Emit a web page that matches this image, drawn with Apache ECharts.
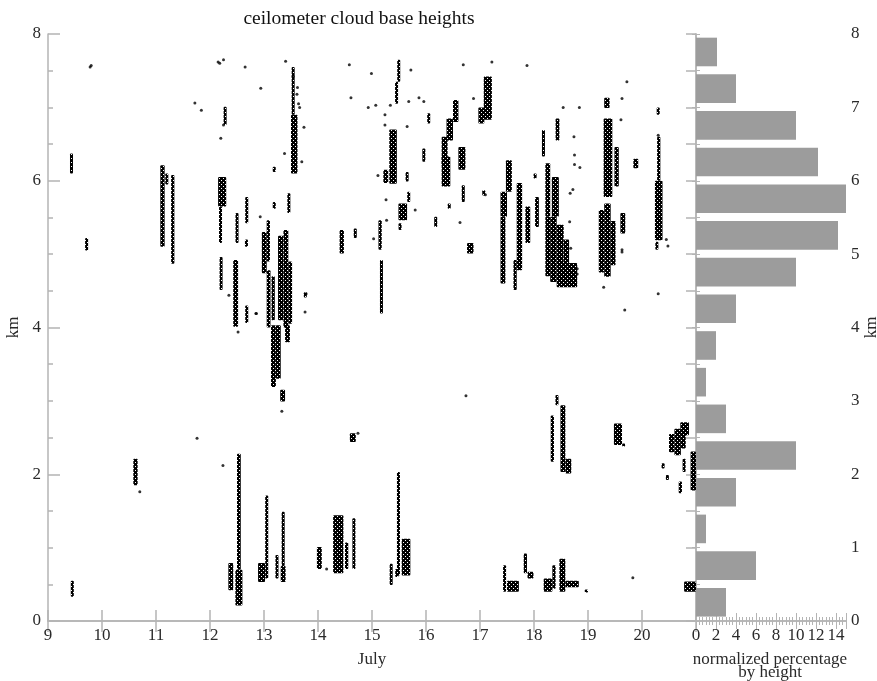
<!DOCTYPE html>
<html>
<head>
<meta charset="utf-8">
<script src="https://cdn.jsdelivr.net/npm/echarts@6/dist/echarts.min.js"></script>
<style>
html,body{margin:0;padding:0;background:#fff;}
#chart{width:877px;height:681px;}
</style>
</head>
<body>
<div id="chart"></div>
<script>
// ---- data ----
const titleText = 'ceilometer cloud base heights';
const xAxisName = 'July';
const yAxisName = 'km';
const histNameLine1 = 'normalized percentage';
const histNameLine2 = 'by height';

const dayMin = 9;
const dayMax = 21;
const kmMin = 0;
const kmMax = 8;

// Dense groups of cloud-base returns: [day start, day end, km low, km high]
const cloudStreaks = [
  [9.42, 9.45, 6.10, 6.37],
  [9.70, 9.73, 5.05, 5.22],
  [9.43, 9.47, 0.33, 0.55],
  [10.58, 10.66, 1.85, 2.21],
  [11.08, 11.16, 5.10, 6.21],
  [11.18, 11.22, 5.95, 6.10],
  [11.28, 11.34, 4.87, 6.08],
  [12.27, 12.29, 6.76, 7.01],
  [12.15, 12.30, 5.65, 6.05],
  [12.17, 12.22, 5.15, 5.65],
  [12.19, 12.22, 4.51, 4.96],
  [12.48, 12.52, 5.15, 5.56],
  [12.66, 12.70, 5.42, 5.78],
  [12.66, 12.69, 5.10, 5.20],
  [12.43, 12.52, 4.01, 4.92],
  [12.67, 12.69, 4.06, 4.30],
  [12.96, 13.05, 4.74, 5.30],
  [13.05, 13.11, 4.90, 5.46],
  [13.05, 13.12, 4.00, 4.78],
  [13.14, 13.20, 4.10, 4.70],
  [13.13, 13.22, 3.19, 4.03],
  [13.22, 13.31, 3.30, 4.03],
  [13.30, 13.39, 2.99, 3.15],
  [13.26, 13.36, 4.10, 5.25],
  [13.36, 13.45, 4.00, 5.33],
  [13.45, 13.52, 4.05, 4.90],
  [13.39, 13.48, 3.80, 4.03],
  [13.52, 13.56, 6.90, 7.55],
  [13.50, 13.62, 6.10, 6.90],
  [13.45, 13.47, 5.56, 5.83],
  [13.18, 13.20, 6.12, 6.19],
  [13.18, 13.20, 5.62, 5.71],
  [13.75, 13.78, 4.41, 4.48],
  [12.34, 12.43, 0.42, 0.79],
  [12.50, 12.57, 0.70, 2.28],
  [12.47, 12.60, 0.21, 0.70],
  [12.89, 13.02, 0.53, 0.79],
  [13.03, 13.07, 0.58, 1.71],
  [13.22, 13.26, 0.58, 0.90],
  [13.34, 13.37, 0.75, 1.49],
  [13.31, 13.40, 0.53, 0.75],
  [14.40, 14.48, 5.01, 5.33],
  [14.68, 14.70, 5.22, 5.35],
  [14.59, 14.70, 2.44, 2.56],
  [13.98, 14.07, 0.71, 1.01],
  [14.28, 14.47, 0.65, 1.44],
  [14.50, 14.56, 0.71, 1.07],
  [14.64, 14.69, 0.71, 1.40],
  [15.12, 15.18, 5.06, 5.46],
  [15.15, 15.20, 4.19, 4.92],
  [15.47, 15.52, 7.35, 7.65],
  [15.43, 15.48, 7.05, 7.35],
  [15.32, 15.46, 5.96, 6.70],
  [15.21, 15.30, 5.97, 6.15],
  [15.49, 15.65, 5.46, 5.69],
  [15.51, 15.53, 5.33, 5.42],
  [15.64, 15.66, 5.99, 6.12],
  [15.67, 15.69, 5.71, 5.85],
  [15.95, 15.97, 6.26, 6.44],
  [16.04, 16.06, 6.78, 6.92],
  [16.16, 16.20, 5.37, 5.51],
  [15.34, 15.37, 0.49, 0.78],
  [15.43, 15.49, 0.60, 0.71],
  [15.47, 15.51, 0.62, 2.03],
  [15.55, 15.71, 0.62, 1.12],
  [16.50, 16.60, 6.80, 7.10],
  [16.38, 16.50, 6.55, 6.85],
  [16.29, 16.40, 6.20, 6.60],
  [16.29, 16.45, 5.92, 6.33],
  [16.60, 16.73, 6.15, 6.46],
  [16.68, 16.70, 5.71, 5.94],
  [16.42, 16.44, 5.62, 5.69],
  [16.76, 16.88, 5.01, 5.15],
  [17.06, 17.08, 5.80, 5.87],
  [16.97, 17.08, 6.78, 7.00],
  [17.07, 17.22, 6.83, 7.42],
  [17.38, 17.50, 5.51, 5.85],
  [17.48, 17.59, 5.85, 6.28],
  [17.38, 17.47, 4.60, 5.51],
  [17.62, 17.68, 4.51, 4.92],
  [17.68, 17.78, 4.78, 5.97],
  [17.84, 17.93, 5.15, 5.65],
  [18.02, 18.09, 5.37, 5.78],
  [18.01, 18.03, 6.03, 6.10],
  [18.15, 18.20, 6.33, 6.69],
  [18.40, 18.47, 6.55, 6.85],
  [18.21, 18.30, 5.51, 6.24],
  [18.33, 18.46, 5.51, 6.05],
  [18.21, 18.30, 4.70, 5.51],
  [18.30, 18.42, 4.62, 5.51],
  [18.42, 18.55, 4.55, 5.40],
  [18.55, 18.65, 4.60, 5.20],
  [18.52, 18.80, 4.55, 4.88],
  [19.30, 19.40, 6.99, 7.13],
  [19.29, 19.45, 5.78, 6.85],
  [19.49, 19.57, 5.92, 6.46],
  [19.20, 19.30, 4.75, 5.60],
  [19.30, 19.42, 4.69, 5.69],
  [19.42, 19.51, 4.85, 5.45],
  [19.60, 19.69, 5.28, 5.56],
  [19.84, 19.93, 6.17, 6.30],
  [20.28, 20.32, 6.90, 7.00],
  [20.28, 20.34, 6.00, 6.60],
  [20.24, 20.38, 5.19, 6.00],
  [20.25, 20.30, 5.06, 5.17],
  [18.31, 18.37, 2.17, 2.80],
  [18.40, 18.45, 2.94, 3.08],
  [18.49, 18.58, 2.03, 2.94],
  [18.58, 18.69, 2.01, 2.21],
  [19.48, 19.63, 2.40, 2.69],
  [19.65, 19.67, 2.38, 2.42],
  [20.50, 20.60, 2.30, 2.55],
  [20.60, 20.72, 2.26, 2.62],
  [20.72, 20.81, 2.35, 2.55],
  [20.71, 20.87, 2.53, 2.71],
  [20.38, 20.40, 2.08, 2.15],
  [20.46, 20.48, 1.92, 1.99],
  [20.68, 20.74, 1.74, 1.90],
  [20.77, 20.79, 2.03, 2.21],
  [20.90, 21.00, 1.78, 2.31],
  [17.44, 17.47, 0.40, 0.76],
  [17.50, 17.72, 0.40, 0.55],
  [17.81, 17.87, 0.65, 0.92],
  [17.88, 17.99, 0.58, 0.67],
  [18.18, 18.34, 0.40, 0.58],
  [18.34, 18.40, 0.44, 0.76],
  [18.47, 18.58, 0.40, 0.85],
  [18.58, 18.83, 0.46, 0.55],
  [18.94, 19.00, 0.40, 0.42],
  [20.78, 21.00, 0.40, 0.54]
];

// Isolated returns: [day, km]
const cloudDots = [
  [9.80, 7.57], [9.78, 7.55], [11.72, 7.06], [11.84, 6.96], [12.15, 7.62], [12.18, 7.60],
  [12.25, 7.65], [12.65, 7.55], [12.94, 7.26], [12.25, 6.76], [12.20, 6.58], [12.35, 4.44],
  [12.85, 4.19], [12.93, 5.51], [13.40, 7.63], [13.54, 7.42], [13.62, 7.27], [13.61, 7.18],
  [13.64, 7.05], [13.66, 7.00], [13.74, 6.73], [13.38, 6.37], [13.70, 6.26], [13.76, 4.21],
  [13.78, 4.46], [12.86, 4.19], [12.52, 3.94], [13.33, 2.86], [14.58, 7.58], [14.61, 7.13],
  [14.99, 7.46], [14.93, 7.00], [15.07, 7.03], [15.34, 7.03], [15.03, 5.21], [15.24, 6.90],
  [15.24, 6.76], [15.11, 6.07], [15.26, 5.74], [15.27, 5.46], [15.65, 6.74], [15.68, 7.08],
  [15.72, 7.51], [15.80, 5.60], [15.87, 7.13], [15.96, 7.08], [16.69, 7.58], [16.88, 7.12],
  [16.63, 5.43], [17.22, 7.62], [17.87, 7.57], [17.10, 5.81], [18.54, 7.00], [18.84, 7.00],
  [18.74, 6.60], [18.75, 6.35], [18.75, 6.22], [18.85, 6.18], [18.67, 5.83], [18.72, 5.88],
  [18.66, 5.44], [18.68, 5.08], [18.80, 4.80], [18.80, 4.73], [19.72, 7.35], [19.63, 7.12],
  [19.61, 6.83], [19.63, 5.06], [19.63, 5.03], [19.68, 4.24], [20.30, 6.62], [20.48, 5.11],
  [20.45, 5.20], [20.30, 4.46], [19.29, 4.55], [10.70, 1.76], [11.76, 2.49], [12.24, 2.12],
  [16.74, 3.07], [19.83, 0.59], [14.16, 0.71], [14.74, 2.56]
];

// Histogram: lower edge of each 0.5 km bin, and normalized percentage
const binLowKm = [0, 0.5, 1, 1.5, 2, 2.5, 3, 3.5, 4, 4.5, 5, 5.5, 6, 6.5, 7, 7.5];
const binPercent = [3, 6, 1, 4, 10, 3, 1, 2, 4, 10, 14.2, 16, 12.2, 10, 4, 2.1];
const histMax = 15;

// ---- chart ----
const FONT = '"Liberation Serif", "DejaVu Serif", serif';
const AX = '#b4b4b4';
const TXT = '#2a2a2a';
const FS = 17;

// speckled fill for dense groups of returns (mostly black with small gaps)
const tile = document.createElement('canvas');
tile.width = 4; tile.height = 4;
(function () {
  const c = tile.getContext('2d');
  c.fillStyle = '#000';
  c.fillRect(0, 0, 4, 4);
  c.clearRect(1, 0, 1, 1);
  c.clearRect(3, 2, 1, 1);
})();
const speckle = {image: tile, repeat: 'repeat'};

const histData = binLowKm.map((b, i) => [b, binPercent[i]]);

const chart = echarts.init(document.getElementById('chart'), null, {renderer: 'canvas'});
const labelStyle = {fontFamily: FONT, fontSize: FS, color: TXT};

const option = {
  animation: false,
  backgroundColor: '#fff',
  graphic: [
    {type: 'text', x: 359, y: 19, style: {text: titleText, textAlign: 'center', textVerticalAlign: 'middle',
      font: '19.5px ' + FONT, fill: '#111'}},
    {type: 'text', x: 770, y: 660, style: {text: histNameLine1, textAlign: 'center', textVerticalAlign: 'middle',
      font: FS + 'px ' + FONT, fill: TXT}},
    {type: 'text', x: 770, y: 673, style: {text: histNameLine2, textAlign: 'center', textVerticalAlign: 'middle',
      font: FS + 'px ' + FONT, fill: TXT}}
  ],
  grid: [
    {left: 48, top: 34, width: 648, height: 587, containLabel: false, outerBoundsMode: 'none'},
    {left: 696, top: 34, width: 150, height: 587, containLabel: false, outerBoundsMode: 'none'}
  ],
  xAxis: [
    {
      gridIndex: 0, type: 'value', min: dayMin, max: dayMax, interval: 1, position: 'bottom',
      splitLine: {show: false},
      axisLine: {lineStyle: {color: AX, width: 1.5}},
      axisTick: {inside: true, length: 11, lineStyle: {color: AX, width: 1.5}},
      axisLabel: Object.assign({margin: 6, formatter: v => (v >= dayMax ? '' : String(v))}, labelStyle),
      name: xAxisName, nameLocation: 'middle', nameGap: 30,
      nameTextStyle: {fontFamily: FONT, fontSize: FS, color: TXT}
    },
    {
      gridIndex: 0, type: 'value', min: dayMin, max: dayMax, interval: 1, position: 'top',
      splitLine: {show: false},
      axisLine: {lineStyle: {color: AX, width: 1.5}},
      axisTick: {inside: true, length: 11, lineStyle: {color: AX, width: 1.5}},
      axisLabel: {show: false}
    },
    {
      gridIndex: 1, type: 'value', min: 0, max: histMax, interval: 2, position: 'bottom',
      splitLine: {show: false},
      axisLine: {lineStyle: {color: AX, width: 1.5}},
      axisTick: {inside: true, length: 8, lineStyle: {color: AX}},
      minorTick: {show: true, splitNumber: 6, length: 4, lineStyle: {color: AX}},
      axisLabel: Object.assign({margin: 6, showMaxLabel: false, formatter: v => (v > 14.5 ? '' : String(v))}, labelStyle)
    },
    {
      gridIndex: 1, type: 'value', min: 0, max: histMax, interval: 2, position: 'top',
      splitLine: {show: false},
      axisLine: {lineStyle: {color: AX, width: 1.5}},
      axisTick: {inside: true, length: 8, lineStyle: {color: AX}},
      minorTick: {show: true, splitNumber: 6, length: 4, lineStyle: {color: AX}},
      axisLabel: {show: false}
    }
  ],
  yAxis: [
    {
      gridIndex: 0, type: 'value', min: kmMin, max: kmMax, interval: 2, position: 'left',
      splitLine: {show: false},
      axisLine: {lineStyle: {color: AX, width: 1.5}},
      axisTick: {inside: true, length: 12, lineStyle: {color: AX, width: 1.5}},
      minorTick: {show: true, splitNumber: 4, length: 5, lineStyle: {color: AX, width: 1.5}},
      axisLabel: Object.assign({margin: 7}, labelStyle),
      name: yAxisName, nameLocation: 'middle', nameGap: 26, nameRotate: 90,
      nameTextStyle: {fontFamily: FONT, fontSize: FS, color: TXT}
    },
    {
      gridIndex: 0, type: 'value', min: kmMin, max: kmMax, interval: 0.5, position: 'right',
      splitLine: {show: false},
      axisLine: {show: false},
      axisTick: {inside: true, length: 10, lineStyle: {color: AX, width: 1.5}},
      axisLabel: {show: false}
    },
    {
      gridIndex: 1, type: 'value', min: kmMin, max: kmMax, interval: 1, position: 'right',
      splitLine: {show: false},
      axisLine: {lineStyle: {color: AX, width: 1.5}},
      axisTick: {inside: true, length: 4, lineStyle: {color: AX}},
      axisLabel: Object.assign({margin: 5}, labelStyle),
      name: yAxisName, nameLocation: 'middle', nameGap: 15, nameRotate: 90,
      nameTextStyle: {fontFamily: FONT, fontSize: FS, color: TXT}
    },
    {
      gridIndex: 1, type: 'value', min: kmMin, max: kmMax, interval: 0.25, position: 'left',
      splitLine: {show: false},
      axisLine: {lineStyle: {color: AX, width: 1.5}},
      axisTick: {inside: true, length: 4, lineStyle: {color: AX}},
      axisLabel: {show: false}
    }
  ],
  series: [
    {
      type: 'custom',
      xAxisIndex: 0, yAxisIndex: 0,
      data: cloudStreaks,
      encode: {x: [0, 1], y: [2, 3]},
      clip: true,
      renderItem: function (params, api) {
        const a = api.coord([api.value(0), api.value(3)]);
        const b = api.coord([api.value(1), api.value(2)]);
        let x = a[0], w = b[0] - a[0], y = a[1], h = b[1] - a[1];
        if (w < 3) { x -= (3 - w) / 2; w = 3; }
        if (h < 3) { y -= (3 - h) / 2; h = 3; }
        return {type: 'rect', shape: {x: x, y: y, width: w, height: h, r: 1}, style: {fill: speckle}};
      }
    },
    {
      type: 'scatter',
      xAxisIndex: 0, yAxisIndex: 0,
      data: cloudDots,
      symbol: 'circle', symbolSize: 3,
      itemStyle: {color: '#000'},
      silent: true
    },
    {
      type: 'custom',
      xAxisIndex: 2, yAxisIndex: 2,
      data: histData,
      encode: {x: 1, y: 0},
      renderItem: function (params, api) {
        const lo = api.value(0);
        const a = api.coord([0, lo + 0.45]);
        const b = api.coord([api.value(1), lo + 0.06]);
        const cs = params.coordSys;
        const right = Math.min(b[0], cs.x + cs.width);
        return {type: 'rect', shape: {x: a[0], y: a[1], width: right - a[0], height: b[1] - a[1]},
                style: {fill: '#9c9c9c'}};
      }
    }
  ]
};
chart.setOption(option);
</script>
</body>
</html>
